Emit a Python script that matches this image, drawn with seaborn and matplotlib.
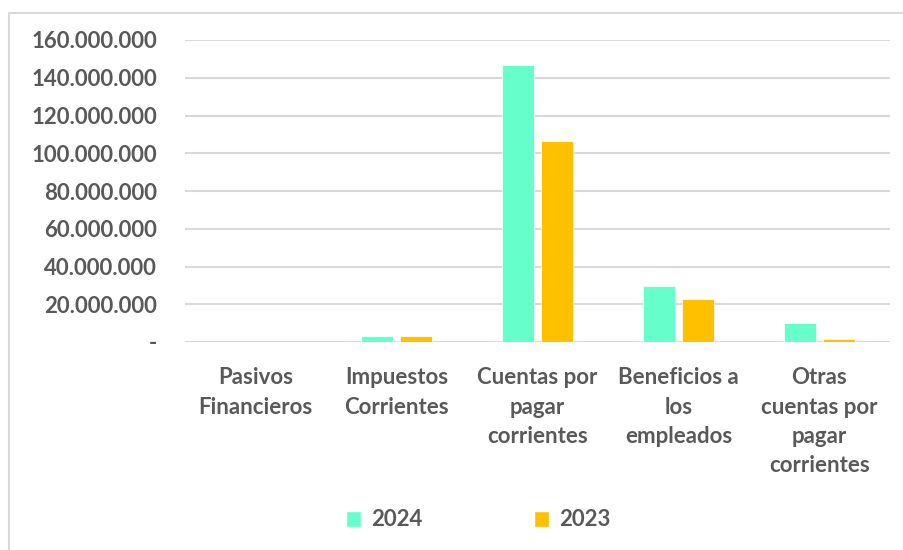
import matplotlib.pyplot as plt
import matplotlib.ticker as mticker
import pandas as pd
import seaborn as sns
from matplotlib.patches import Patch, Rectangle

categorias = [
    "Pasivos\nFinancieros",
    "Impuestos\nCorrientes",
    "Cuentas por\npagar\ncorrientes",
    "Beneficios a\nlos\nempleados",
    "Otras\ncuentas por\npagar\ncorrientes",
]
valores_2024 = [0, 3_300_000, 146_800_000, 29_700_000, 9_900_000]
valores_2023 = [0, 3_400_000, 106_500_000, 22_600_000, 1_400_000]
anios = ["2024", "2023"]
colores = ["#66FFCC", "#FFC000"]
gris_texto = "#595959"

df = pd.DataFrame({
    "categoria": categorias * 2,
    "valor": valores_2024 + valores_2023,
    "anio": [anios[0]] * len(categorias) + [anios[1]] * len(categorias),
})

sns.set_style("white")
plt.rcParams["font.family"] = ["Lato", "DejaVu Sans"]
plt.rcParams["font.weight"] = "bold"

fig = plt.figure(figsize=(9.04, 5.5), dpi=100)
ax = fig.add_axes([185 / 904, 1 - 342 / 550, 705 / 904, 302 / 550])

sns.barplot(data=df, x="categoria", y="valor", hue="anio", hue_order=anios,
            palette=colores, saturation=1, width=0.56, gap=0.2,
            edgecolor="white", linewidth=0.5, legend=False, ax=ax)

ax.set_ylim(0, 160_000_000)
ax.set_yticks(range(0, 160_000_001, 20_000_000))


def formato_miles(v, pos):
    if v == 0:
        return "-"
    return f"{int(v):,}".replace(",", ".")


ax.yaxis.set_major_formatter(mticker.FuncFormatter(formato_miles))
ax.grid(axis="y", color="#D9D9D9", linewidth=1.5)
ax.set_axisbelow(True)
for s in ax.spines.values():
    s.set_visible(False)
ax.tick_params(axis="y", length=0, pad=20, labelsize=16, labelcolor=gris_texto)
ax.tick_params(axis="x", length=0, pad=18, labelsize=16, labelcolor=gris_texto)
for t in ax.get_xticklabels():
    t.set_linespacing(1.5)
    t.set_fontweight("bold")
for t in ax.get_yticklabels():
    t.set_fontweight("bold")
ax.set_xlabel("")
ax.set_ylabel("")

handles = [Patch(facecolor=c, edgecolor="white") for c in colores]
fig.legend(handles, anios, loc="center", bbox_to_anchor=(478 / 904, 1 - 520 / 550),
           ncol=2, frameon=False, handlelength=0.7, handleheight=0.7,
           handletextpad=0.45, columnspacing=5.0,
           prop={"size": 16, "weight": "bold"}, labelcolor=gris_texto)

# borde del grafico
fig.patches.append(Rectangle((9 / 904, -0.1), 1.1, 1 - 13 / 550 + 0.1,
                             transform=fig.transFigure, fill=False,
                             edgecolor="#D9D9D9", linewidth=1.5))

fig.savefig("out.png", dpi=100)
